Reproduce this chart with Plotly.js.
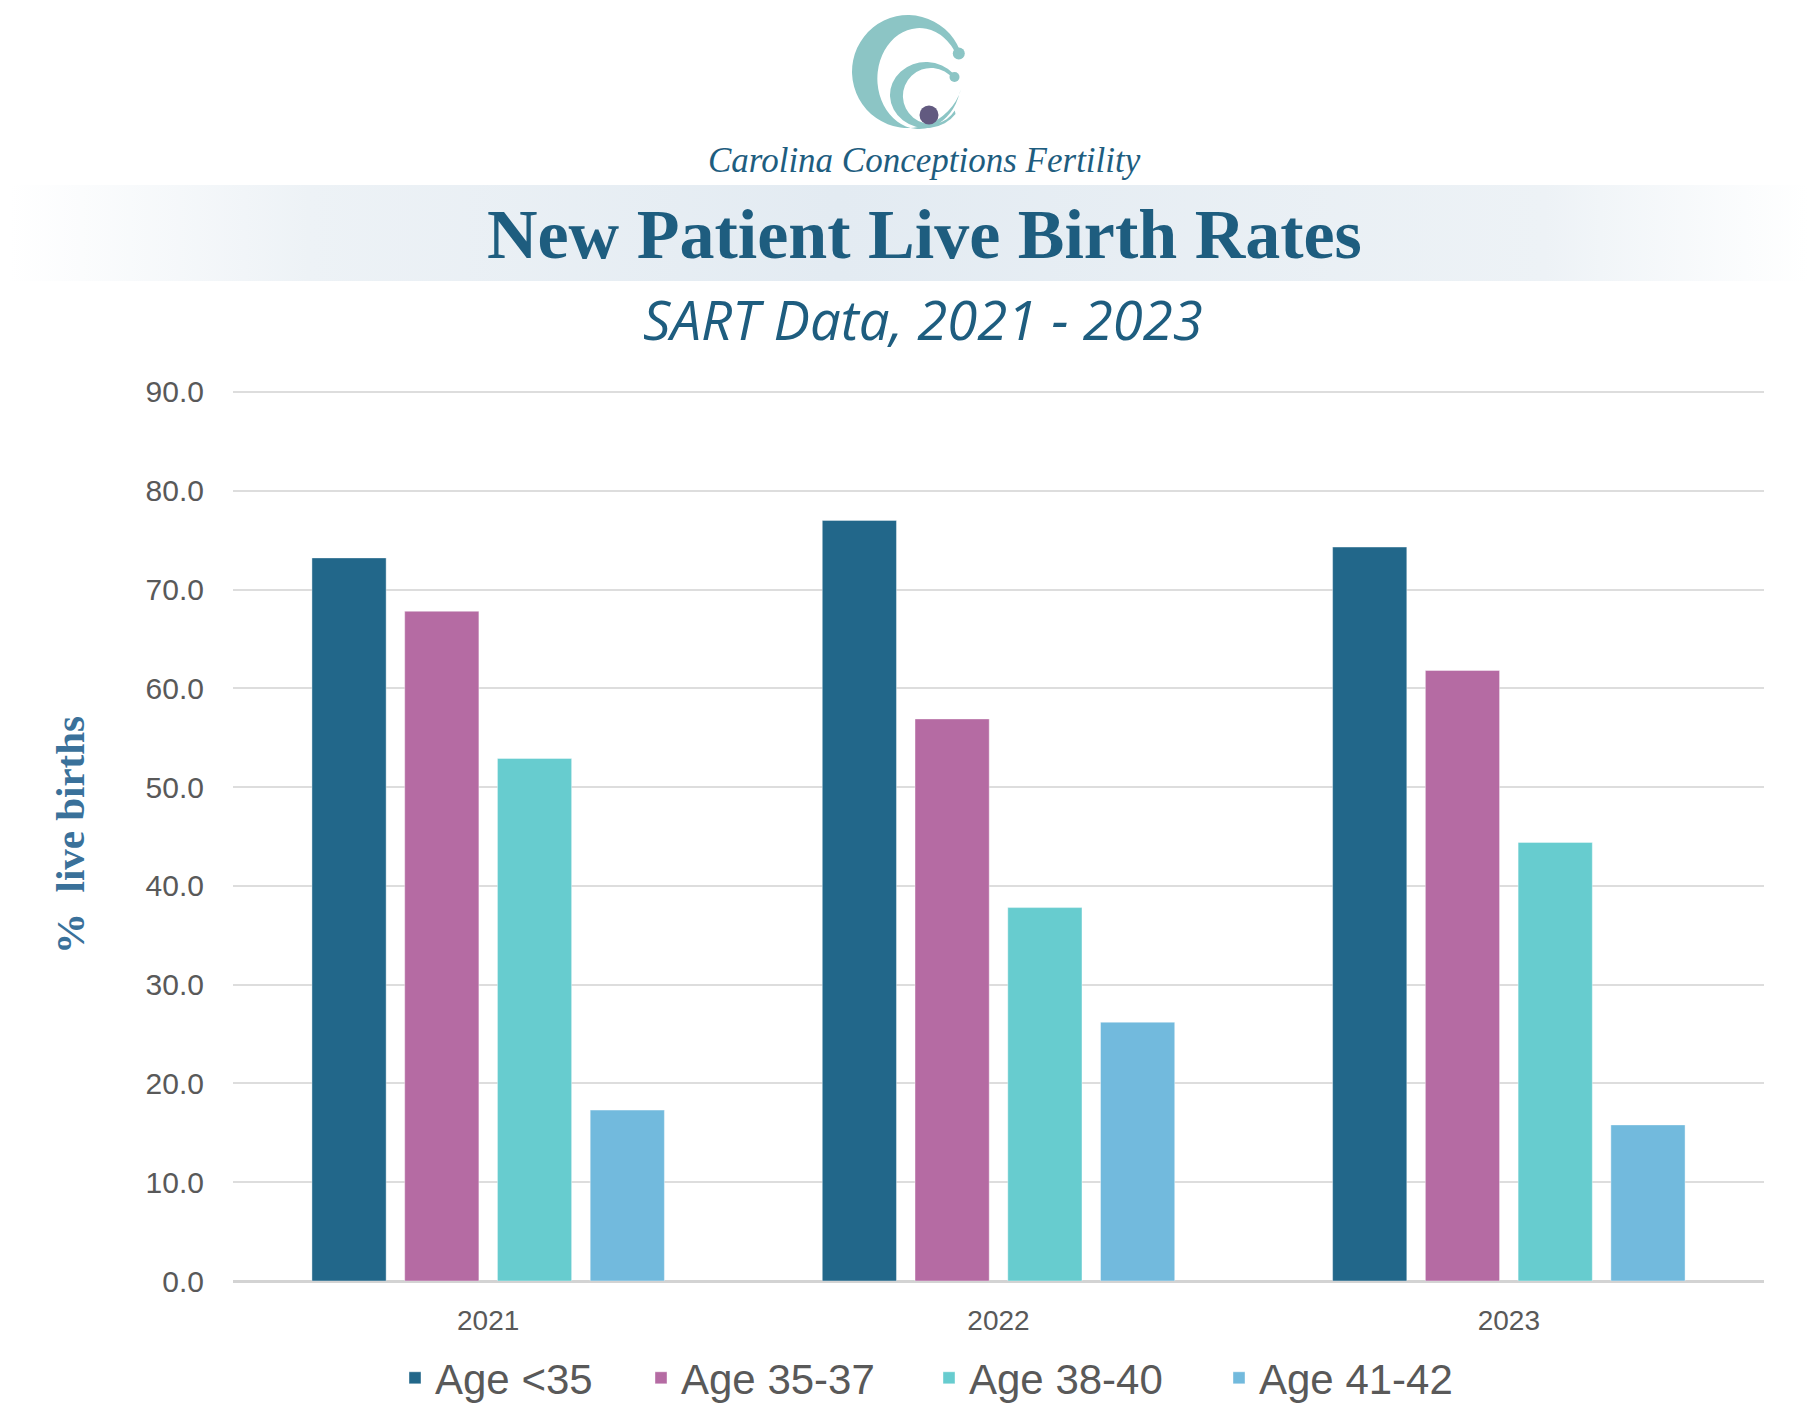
<!DOCTYPE html>
<html>
<head>
<meta charset="utf-8">
<script src="https://cdn.plot.ly/plotly-3.0.1.min.js"></script>
<style>
  body { margin: 0; background: #ffffff; }
  #plotDiv { width: 1817px; height: 1414px; }
</style>
</head>
<body>
<div id="plotDiv"></div>
<script>
'use strict';

// chart values
const years = ['2021', '2022', '2023'];
const ageUnder35 = [73.2, 77.0, 74.3];
const age35to37 = [67.8, 56.9, 61.8];
const age38to40 = [52.9, 37.8, 44.4];
const age41to42 = [17.3, 26.2, 15.8];
const seriesNames = ['Age <35', 'Age 35-37', 'Age 38-40', 'Age 41-42'];
const yTickVals = [0, 10, 20, 30, 40, 50, 60, 70, 80, 90];

const seriesValues = [ageUnder35, age35to37, age38to40, age41to42];
const seriesColors = ['#22678a', '#b56ba3', '#67cccf', '#72badd'];
const legendWidths = [201, 243, 245, 205];

// plot box in page pixels (90 sits at y=392, 0 at y=1281)
const W = 1817, H = 1414;
const yTop = 90.3;
const L = 233, R = 1764, B = 1281, T = Math.round(1281 - (1281 - 392) * yTop / 90);

function px(x) { return (x - L) / (R - L); }
function py(y) { return (B - y) / (B - T); }

const titleBlue = '#1e5d7f';
const greyText = '#595959';

var data = [];
for (var i = 0; i < seriesNames.length; i++) {
    data.push({
        type: 'bar',
        name: seriesNames[i],
        x: years,
        y: seriesValues[i],
        legendwidth: legendWidths[i],
        marker: {
            color: seriesColors[i],
            line: { width: 1, color: 'rgba(255,255,255,0.4)' }
        },
        hovertemplate: '%{x}: %{y:.1f}<extra>' + seriesNames[i] + '</extra>'
    });
}

function svgUri(svg) {
    return 'data:image/svg+xml;charset=utf-8,' + encodeURIComponent(svg);
}

// soft band behind the main title
var bandSvg = "<svg xmlns='http://www.w3.org/2000/svg' width='1817' height='96' preserveAspectRatio='none'>" +
    "<defs><linearGradient id='g' x1='0' x2='1' y1='0' y2='0'>" +
    "<stop offset='0.005' stop-color='#eef3f7' stop-opacity='0'/>" +
    "<stop offset='0.17' stop-color='#edf2f6' stop-opacity='1'/>" +
    "<stop offset='0.46' stop-color='#e3ebf2' stop-opacity='1'/>" +
    "<stop offset='0.85' stop-color='#edf2f6' stop-opacity='1'/>" +
    "<stop offset='0.995' stop-color='#eef3f7' stop-opacity='0'/>" +
    "</linearGradient></defs>" +
    "<rect x='0' y='0' width='1817' height='96' fill='url(#g)'/></svg>";

// the two-C logo mark, drawn as shapes (box 140x130 at page 840,5)
var logoSvg = "<svg xmlns='http://www.w3.org/2000/svg' width='140' height='130' viewBox='0 0 140 130'>" +
    "<g fill='#8cc5c5'>" +
    "<path d='M119.9,45.3 A56,56.5 0 1 0 121.3,84 L119.6,88 A42,50.5 0 1 1 116.5,50 Z'/>" +
    "<circle cx='118.8' cy='48.5' r='6'/>" +
    "<path d='M113.6,68.8 A36,33 0 1 0 115.5,108.9 L114.8,105.6 A28,28 0 1 1 113.5,74.4 Z'/>" +
    "<circle cx='114.5' cy='72' r='5'/>" +
    "</g>" +
    "<circle cx='89' cy='110' r='9.5' fill='#625a80'/></svg>";

var layout = {
    width: W,
    height: H,
    paper_bgcolor: '#ffffff',
    plot_bgcolor: '#ffffff',
    margin: { l: L, r: W - R, t: T, b: H - B, pad: 0, autoexpand: false },
    font: { family: 'Liberation Sans, Arial, sans-serif', color: greyText },
    barmode: 'group',
    bargap: 0.273,
    bargroupgap: 0.2,
    showlegend: true,
    legend: {
        orientation: 'h',
        x: px(395),
        xanchor: 'left',
        y: py(1378),
        yanchor: 'middle',
        font: { family: 'Liberation Sans, Arial, sans-serif', size: 42, color: greyText },
        bgcolor: 'rgba(0,0,0,0)'
    },
    xaxis: {
        type: 'category',
        showgrid: false,
        showline: false,
        zeroline: false,
        ticks: '',
        ticklabelstandoff: 20,
        tickfont: { family: 'Liberation Sans, Arial, sans-serif', size: 28, color: greyText },
        fixedrange: true
    },
    yaxis: {
        range: [0, yTop],
        tickvals: yTickVals,
        tickformat: '.1f',
        ticks: '',
        showline: false,
        showgrid: true,
        gridcolor: '#dddddd',
        gridwidth: 2,
        zeroline: true,
        zerolinecolor: '#d3d3d3',
        zerolinewidth: 3,
        ticklabelstandoff: 28,
        tickfont: { family: 'Liberation Sans, Arial, sans-serif', size: 30, color: greyText },
        title: {
            text: '%\u00a0 live births',
            standoff: 48,
            font: { family: 'Liberation Serif, serif', size: 41, color: '#3a719a', weight: 'bold' }
        },
        fixedrange: true
    },
    images: [
        {
            source: svgUri(bandSvg),
            xref: 'paper', yref: 'paper',
            x: px(0), y: py(185),
            sizex: W / (R - L), sizey: 96 / (B - T),
            xanchor: 'left', yanchor: 'top',
            sizing: 'stretch',
            layer: 'below'
        },
        {
            source: svgUri(logoSvg),
            xref: 'paper', yref: 'paper',
            x: px(840), y: py(5),
            sizex: 140 / (R - L), sizey: 130 / (B - T),
            xanchor: 'left', yanchor: 'top',
            sizing: 'stretch',
            layer: 'above'
        }
    ],
    annotations: [
        {
            text: 'Carolina Conceptions Fertility', xref: 'paper', yref: 'paper',
            x: px(924), y: py(160), xanchor: 'center', yanchor: 'middle',
            showarrow: false,
            font: { family: 'Liberation Serif, serif', size: 35, color: titleBlue, style: 'italic' }
        },
        {
            text: '<b>New Patient Live Birth Rates</b>', xref: 'paper', yref: 'paper',
            x: px(924), y: py(234), xanchor: 'center', yanchor: 'middle',
            showarrow: false,
            font: { family: 'Liberation Serif, serif', size: 70, color: titleBlue }
        },
        {
            text: '<i>SART Data, 2021 - 2023</i>', xref: 'paper', yref: 'paper',
            x: px(922.5), y: py(319), xanchor: 'center', yanchor: 'middle',
            showarrow: false,
            font: { family: 'Open Sans, sans-serif', size: 54.5, color: titleBlue }
        }
    ]
};

Plotly.newPlot('plotDiv', data, layout, { displayModeBar: false, responsive: false });
</script>
</body>
</html>
